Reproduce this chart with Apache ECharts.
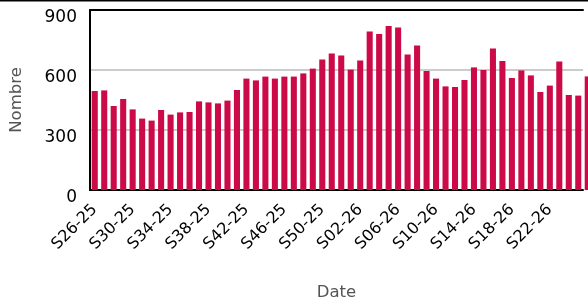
<!DOCTYPE html>
<html>
<head>
<meta charset="utf-8">
<script src="https://cdn.jsdelivr.net/npm/echarts@6/dist/echarts.min.js"></script>
<style>
  html, body { margin: 0; padding: 0; background: #fff; }
  #chart { width: 588px; height: 306px; }
</style>
</head>
<body>
<div id="chart"></div>
<script>
var weeks = [
    'S26-25', 'S27-25', 'S28-25', 'S29-25', 'S30-25', 'S31-25', 'S32-25', 'S33-25',
    'S34-25', 'S35-25', 'S36-25', 'S37-25', 'S38-25', 'S39-25', 'S40-25', 'S41-25',
    'S42-25', 'S43-25', 'S44-25', 'S45-25', 'S46-25', 'S47-25', 'S48-25', 'S49-25',
    'S50-25', 'S51-25', 'S52-25', 'S01-26', 'S02-26', 'S03-26', 'S04-26', 'S05-26',
    'S06-26', 'S07-26', 'S08-26', 'S09-26', 'S10-26', 'S11-26', 'S12-26', 'S13-26',
    'S14-26', 'S15-26', 'S16-26', 'S17-26', 'S18-26', 'S19-26', 'S20-26', 'S21-26',
    'S22-26', 'S23-26', 'S24-26', 'S25-26', 'S26-26'
];
var nombre = [
    495, 498, 420, 455, 403, 357, 347, 400, 377, 388, 390, 443, 438, 433, 447, 500,
    557, 548, 567, 557, 567, 567, 583, 607, 653, 683, 673, 602, 648, 793, 780, 820,
    812, 677, 723, 595, 557, 518, 515, 550, 613, 600, 708, 645, 560, 598, 573, 490,
    522, 642, 475, 472, 568
];
var yTicks = [0, 300, 600, 900];

var chart = echarts.init(document.getElementById('chart'));

chart.setOption({
    animation: false,
    grid: { left: 90, right: 5, top: 10, bottom: 115 },
    graphic: [
        {
            type: 'line',
            shape: { x1: 0, y1: 0.75, x2: 588, y2: 0.75 },
            style: { stroke: '#000', lineWidth: 1.5 }
        }
    ],
    xAxis: [
        {
            type: 'category',
            data: weeks,
            // last week sits past the right edge, cut off like in the original
            max: weeks.length - 2,
            name: 'Date',
            nameLocation: 'middle',
            nameGap: 94,
            nameTextStyle: { color: '#555', fontSize: 16.5, fontFamily: 'DejaVu Sans' },
            axisLine: { lineStyle: { color: '#000', width: 2 } },
            axisTick: { alignWithLabel: true, interval: 3, length: 5, lineStyle: { color: '#000', width: 2 } },
            axisLabel: {
                interval: 3,
                rotate: 45,
                margin: 17,
                color: '#000',
                fontSize: 16,
                fontFamily: 'DejaVu Sans'
            }
        },
        {
            type: 'category',
            position: 'top',
            data: weeks,
            max: weeks.length - 2,
            axisLine: { lineStyle: { color: '#000', width: 2 } },
            axisTick: { show: false },
            axisLabel: { show: false }
        }
    ],
    yAxis: {
        type: 'value',
        min: yTicks[0],
        max: yTicks[yTicks.length - 1],
        interval: 300,
        name: 'Nombre',
        nameLocation: 'middle',
        nameGap: 65,
        nameTextStyle: { color: '#555', fontSize: 16.5, fontFamily: 'DejaVu Sans' },
        axisLine: { show: true, lineStyle: { color: '#000', width: 2 } },
        axisTick: { show: false },
        axisLabel: {
            margin: 13,
            color: '#000',
            fontSize: 17,
            fontFamily: 'DejaVu Sans',
            verticalAlign: 'top',
            lineHeight: 16
        },
        splitLine: { lineStyle: { color: ['transparent', '#cccccc', '#cccccc', 'transparent'], width: 2 } }
    },
    series: [
        {
            type: 'bar',
            data: nombre,
            clip: false,
            barWidth: '64%',
            itemStyle: { color: '#cc0a47' }
        }
    ]
});
</script>
</body>
</html>
